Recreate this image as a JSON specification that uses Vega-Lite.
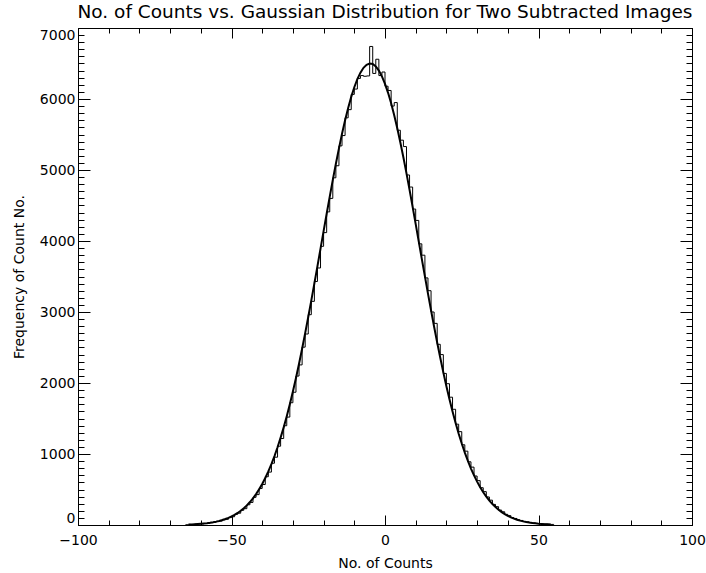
{
  "$schema": "https://vega.github.io/schema/vega-lite/v6.json",
  "width": 614,
  "height": 497,
  "autosize": {"type": "none"},
  "padding": {"left": 78, "top": 28, "right": 14, "bottom": 48},
  "background": "white",
  "config": {
    "view": {"stroke": "black", "strokeWidth": 1},
    "axis": {
      "domain": false,
      "grid": false,
      "tickColor": "black",
      "tickWidth": 1,
      "labelColor": "black",
      "labelFont": "DejaVu Sans",
      "labelFontSize": 14,
      "titleFont": "DejaVu Sans",
      "titleFontSize": 14,
      "titleFontWeight": "normal",
      "titleColor": "black"
    }
  },
  "title": {
    "text": "No. of Counts vs. Gaussian Distribution for Two Subtracted Images",
    "font": "DejaVu Sans",
    "fontSize": 18.5,
    "fontWeight": "normal",
    "color": "black",
    "anchor": "middle",
    "frame": "group",
    "baseline": "alphabetic",
    "offset": -9
  },
  "datasets": {
    "hist": [
      {"x": -65, "y": 4}, {"x": -64, "y": 8}, {"x": -63, "y": 7}, {"x": -62, "y": 12}, {"x": -61, "y": 14},
      {"x": -60, "y": 15}, {"x": -59, "y": 22}, {"x": -58, "y": 24}, {"x": -57, "y": 33}, {"x": -56, "y": 37},
      {"x": -55, "y": 50}, {"x": -54, "y": 55}, {"x": -53, "y": 72}, {"x": -52, "y": 80}, {"x": -51, "y": 104},
      {"x": -50, "y": 116}, {"x": -49, "y": 150}, {"x": -48, "y": 166}, {"x": -47, "y": 207}, {"x": -46, "y": 230},
      {"x": -45, "y": 285}, {"x": -44, "y": 318}, {"x": -43, "y": 390}, {"x": -42, "y": 428}, {"x": -41, "y": 515},
      {"x": -40, "y": 570}, {"x": -39, "y": 680}, {"x": -38, "y": 745}, {"x": -37, "y": 870}, {"x": -36, "y": 955},
      {"x": -35, "y": 1110}, {"x": -34, "y": 1218}, {"x": -33, "y": 1398}, {"x": -32, "y": 1520}, {"x": -31, "y": 1722},
      {"x": -30, "y": 1870}, {"x": -29, "y": 2098}, {"x": -28, "y": 2255}, {"x": -27, "y": 2505}, {"x": -26, "y": 2690},
      {"x": -25, "y": 2962}, {"x": -24, "y": 3150}, {"x": -23, "y": 3430}, {"x": -22, "y": 3620}, {"x": -21, "y": 3925},
      {"x": -20, "y": 4118}, {"x": -19, "y": 4410}, {"x": -18, "y": 4600}, {"x": -17, "y": 4890}, {"x": -16, "y": 5060},
      {"x": -15, "y": 5340}, {"x": -14, "y": 5485}, {"x": -13, "y": 5735}, {"x": -12, "y": 5850}, {"x": -11, "y": 6065},
      {"x": -10, "y": 6140}, {"x": -9, "y": 6290}, {"x": -8, "y": 6330}, {"x": -7, "y": 6320}, {"x": -6, "y": 6325},
      {"x": -5, "y": 6740}, {"x": -4, "y": 6360}, {"x": -3, "y": 6560}, {"x": -2, "y": 6330}, {"x": -1, "y": 6380},
      {"x": 0, "y": 6180}, {"x": 1, "y": 6120}, {"x": 2, "y": 5900}, {"x": 3, "y": 5950}, {"x": 4, "y": 5560},
      {"x": 5, "y": 5420}, {"x": 6, "y": 5330}, {"x": 7, "y": 4930}, {"x": 8, "y": 4760}, {"x": 9, "y": 4450},
      {"x": 10, "y": 4290}, {"x": 11, "y": 3960}, {"x": 12, "y": 3800}, {"x": 13, "y": 3480}, {"x": 14, "y": 3300},
      {"x": 15, "y": 3000}, {"x": 16, "y": 2840}, {"x": 17, "y": 2545}, {"x": 18, "y": 2400}, {"x": 19, "y": 2135},
      {"x": 20, "y": 1990}, {"x": 21, "y": 1800}, {"x": 22, "y": 1630}, {"x": 23, "y": 1420}, {"x": 24, "y": 1315},
      {"x": 25, "y": 1130}, {"x": 26, "y": 1040}, {"x": 27, "y": 890}, {"x": 28, "y": 815}, {"x": 29, "y": 690},
      {"x": 30, "y": 625}, {"x": 31, "y": 525}, {"x": 32, "y": 470}, {"x": 33, "y": 395}, {"x": 34, "y": 350},
      {"x": 35, "y": 290}, {"x": 36, "y": 258}, {"x": 37, "y": 210}, {"x": 38, "y": 186}, {"x": 39, "y": 150},
      {"x": 40, "y": 132}, {"x": 41, "y": 105}, {"x": 42, "y": 92}, {"x": 43, "y": 73}, {"x": 44, "y": 64},
      {"x": 45, "y": 49}, {"x": 46, "y": 44}, {"x": 47, "y": 33}, {"x": 48, "y": 29}, {"x": 49, "y": 21},
      {"x": 50, "y": 19}, {"x": 51, "y": 14}, {"x": 52, "y": 12}, {"x": 53, "y": 9}, {"x": 54, "y": 8},
      {"x": 55, "y": 5}
    ],
    "gauss": [
      {"x": -64, "y": 6.9}, {"x": -63, "y": 8.7}, {"x": -62, "y": 10.9}, {"x": -61, "y": 13.6}, {"x": -60, "y": 16.9},
      {"x": -59, "y": 20.9}, {"x": -58, "y": 25.8}, {"x": -57, "y": 31.7}, {"x": -56, "y": 38.8}, {"x": -55, "y": 47.4},
      {"x": -54, "y": 57.5}, {"x": -53, "y": 69.5}, {"x": -52, "y": 83.8}, {"x": -51, "y": 100.5}, {"x": -50, "y": 120.3},
      {"x": -49, "y": 143}, {"x": -48, "y": 169.7}, {"x": -47, "y": 200.6}, {"x": -46, "y": 236.1}, {"x": -45, "y": 276.7},
      {"x": -44, "y": 323.3}, {"x": -43, "y": 376}, {"x": -42, "y": 435.6}, {"x": -41, "y": 503}, {"x": -40, "y": 578},
      {"x": -39, "y": 662}, {"x": -38, "y": 755}, {"x": -37, "y": 858}, {"x": -36, "y": 971}, {"x": -35, "y": 1095},
      {"x": -34, "y": 1230}, {"x": -33, "y": 1375}, {"x": -32, "y": 1532}, {"x": -31, "y": 1700}, {"x": -30, "y": 1881},
      {"x": -29, "y": 2071}, {"x": -28, "y": 2272}, {"x": -27, "y": 2483}, {"x": -26, "y": 2702}, {"x": -25, "y": 2930},
      {"x": -24, "y": 3164}, {"x": -23, "y": 3404}, {"x": -22, "y": 3647}, {"x": -21, "y": 3893}, {"x": -20, "y": 4140},
      {"x": -19, "y": 4384}, {"x": -18, "y": 4625}, {"x": -17, "y": 4860}, {"x": -16, "y": 5088}, {"x": -15, "y": 5305},
      {"x": -14, "y": 5510}, {"x": -13, "y": 5700}, {"x": -12, "y": 5874}, {"x": -11, "y": 6030}, {"x": -10, "y": 6166},
      {"x": -9, "y": 6280}, {"x": -8, "y": 6371}, {"x": -7, "y": 6439}, {"x": -6, "y": 6482}, {"x": -5, "y": 6499},
      {"x": -4, "y": 6492}, {"x": -3, "y": 6459}, {"x": -2, "y": 6401}, {"x": -1, "y": 6319}, {"x": 0, "y": 6214},
      {"x": 1, "y": 6087}, {"x": 2, "y": 5939}, {"x": 3, "y": 5772}, {"x": 4, "y": 5588}, {"x": 5, "y": 5388},
      {"x": 6, "y": 5176}, {"x": 7, "y": 4952}, {"x": 8, "y": 4720}, {"x": 9, "y": 4481}, {"x": 10, "y": 4237},
      {"x": 11, "y": 3992}, {"x": 12, "y": 3745}, {"x": 13, "y": 3501}, {"x": 14, "y": 3259}, {"x": 15, "y": 3022},
      {"x": 16, "y": 2792}, {"x": 17, "y": 2569}, {"x": 18, "y": 2355}, {"x": 19, "y": 2150}, {"x": 20, "y": 1955},
      {"x": 21, "y": 1771}, {"x": 22, "y": 1598}, {"x": 23, "y": 1437}, {"x": 24, "y": 1286}, {"x": 25, "y": 1147},
      {"x": 26, "y": 1019}, {"x": 27, "y": 902}, {"x": 28, "y": 795}, {"x": 29, "y": 698}, {"x": 30, "y": 611},
      {"x": 31, "y": 532}, {"x": 32, "y": 461}, {"x": 33, "y": 399}, {"x": 34, "y": 344}, {"x": 35, "y": 295},
      {"x": 36, "y": 252}, {"x": 37, "y": 214}, {"x": 38, "y": 182}, {"x": 39, "y": 153}, {"x": 40, "y": 129},
      {"x": 41, "y": 108}, {"x": 42, "y": 90}, {"x": 43, "y": 75}, {"x": 44, "y": 62}, {"x": 45, "y": 51},
      {"x": 46, "y": 42}, {"x": 47, "y": 34}, {"x": 48, "y": 28}, {"x": 49, "y": 23}, {"x": 50, "y": 18},
      {"x": 51, "y": 15}, {"x": 52, "y": 12}, {"x": 53, "y": 9.5}, {"x": 54, "y": 7.6}
    ]
  },
  "layer": [
    {
      "data": {"name": "hist"},
      "mark": {"type": "line", "interpolate": "step-after", "stroke": "black", "strokeWidth": 1},
      "encoding": {
        "x": {
          "field": "x", "type": "quantitative",
          "scale": {"domain": [-100, 100], "nice": false, "zero": false},
          "axis": {"orient": "bottom", "values": [-100, -50, 0, 50, 100], "format": "d", "tickSize": -10, "labelPadding": 18, "labelFlush": false, "title": "No. of Counts", "titlePadding": 9}
        },
        "y": {
          "field": "y", "type": "quantitative",
          "scale": {"domain": [0, 7000], "nice": false, "zero": false},
          "axis": {"orient": "left", "values": [0, 1000, 2000, 3000, 4000, 5000, 6000, 7000], "format": "d", "tickSize": -12, "labelPadding": 15, "labelFlush": true, "title": "Frequency of Count No.", "titlePadding": 13}
        }
      }
    },
    {
      "data": {"name": "gauss"},
      "mark": {"type": "line", "interpolate": "linear", "stroke": "black", "strokeWidth": 2},
      "encoding": {
        "x": {
          "field": "x", "type": "quantitative",
          "axis": {"orient": "bottom", "values": [-100, -90, -80, -70, -60, -50, -40, -30, -20, -10, 0, 10, 20, 30, 40, 50, 60, 70, 80, 90, 100], "tickSize": -5, "labels": false, "title": null, "minExtent": 0, "maxExtent": 0}
        },
        "y": {
          "field": "y", "type": "quantitative",
          "axis": {"orient": "left", "values": [0,100,200,300,400,500,600,700,800,900,1000,1100,1200,1300,1400,1500,1600,1700,1800,1900,2000,2100,2200,2300,2400,2500,2600,2700,2800,2900,3000,3100,3200,3300,3400,3500,3600,3700,3800,3900,4000,4100,4200,4300,4400,4500,4600,4700,4800,4900,5000,5100,5200,5300,5400,5500,5600,5700,5800,5900,6000,6100,6200,6300,6400,6500,6600,6700,6800,6900,7000], "tickSize": -6, "labels": false, "title": null, "minExtent": 0, "maxExtent": 0}
        }
      }
    },
    {
      "data": {"name": "hist"},
      "mark": {"type": "line", "strokeOpacity": 0},
      "encoding": {
        "x": {
          "field": "x", "type": "quantitative",
          "axis": {"orient": "top", "values": [-100, -50, 0, 50, 100], "tickSize": -10, "labels": false, "title": null, "minExtent": 0, "maxExtent": 0}
        },
        "y": {
          "field": "y", "type": "quantitative",
          "axis": {"orient": "right", "values": [0, 1000, 2000, 3000, 4000, 5000, 6000, 7000], "tickSize": -12, "labels": false, "title": null, "minExtent": 0, "maxExtent": 0}
        }
      }
    },
    {
      "data": {"name": "gauss"},
      "mark": {"type": "line", "strokeOpacity": 0},
      "encoding": {
        "x": {
          "field": "x", "type": "quantitative",
          "axis": {"orient": "top", "values": [-100, -90, -80, -70, -60, -50, -40, -30, -20, -10, 0, 10, 20, 30, 40, 50, 60, 70, 80, 90, 100], "tickSize": -5, "labels": false, "title": null, "minExtent": 0, "maxExtent": 0}
        },
        "y": {
          "field": "y", "type": "quantitative",
          "axis": {"orient": "right", "values": [0,100,200,300,400,500,600,700,800,900,1000,1100,1200,1300,1400,1500,1600,1700,1800,1900,2000,2100,2200,2300,2400,2500,2600,2700,2800,2900,3000,3100,3200,3300,3400,3500,3600,3700,3800,3900,4000,4100,4200,4300,4400,4500,4600,4700,4800,4900,5000,5100,5200,5300,5400,5500,5600,5700,5800,5900,6000,6100,6200,6300,6400,6500,6600,6700,6800,6900,7000], "tickSize": -6, "labels": false, "title": null, "minExtent": 0, "maxExtent": 0}
        }
      }
    }
  ],
  "resolve": {"axis": {"x": "independent", "y": "independent"}}
}
